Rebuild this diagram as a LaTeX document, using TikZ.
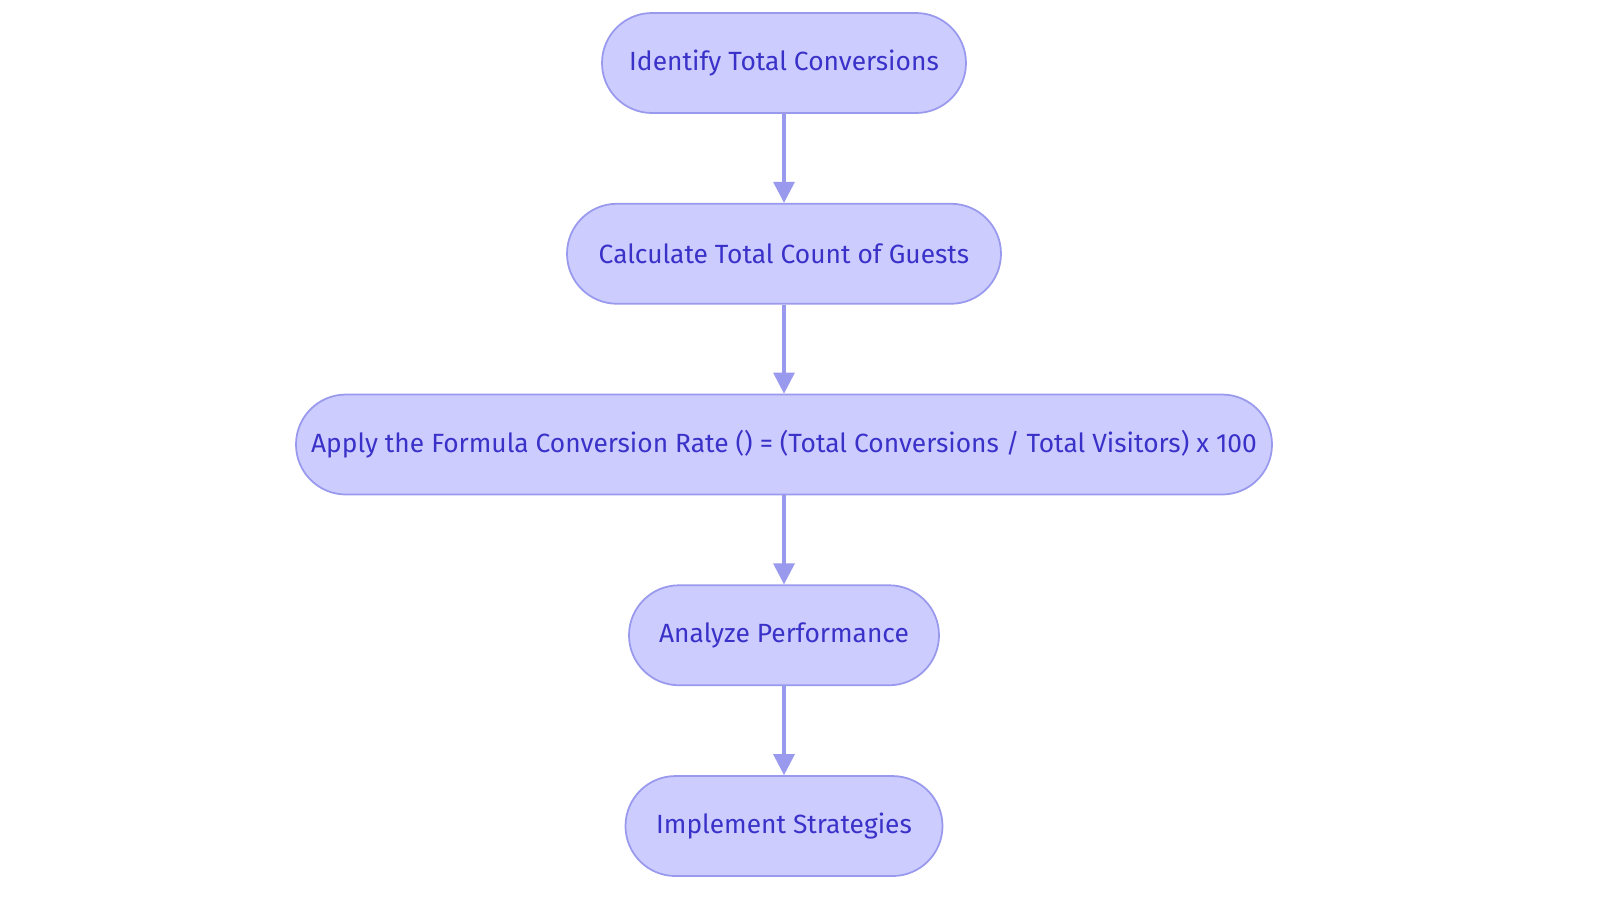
\documentclass[tikz,border=0pt]{standalone}
\usepackage{fontspec}
\setmainfont{Fira Sans}
\usetikzlibrary{positioning,arrows.meta}
\definecolor{stepfill}{HTML}{CCCCFF}
\definecolor{stepline}{HTML}{9999EE}
\definecolor{steptext}{HTML}{3A32C8}
\tikzset{>={Triangle[length=0.42cm,width=0.42cm]}}

\begin{document}
\begin{tikzpicture}[
    stage/.style={draw=stepline, line width=1pt, fill=stepfill, rounded corners=1cm,
        minimum height=2cm, text=steptext, font=\fontsize{15}{18}\selectfont, align=center},
    flow/.style={->, draw=stepline, line width=1.8pt},
    node distance=1.78cm]
    \useasboundingbox (0,0) rectangle (32,-18.06);
    \node[stage, minimum width=7.28cm] (ident) at (15.68,-1.26) {Identify Total Conversions};
    \node[stage, minimum width=8.68cm, below=of ident] (calc) {Calculate Total Count of Guests};
    \node[stage, minimum width=19.52cm, below=of calc] (apply) {Apply the Formula Conversion Rate () = (Total Conversions / Total Visitors) x 100};
    \node[stage, minimum width=6.2cm, below=of apply] (analyze) {Analyze Performance};
    \node[stage, minimum width=6.34cm, below=of analyze] (impl) {Implement Strategies};

    \draw[flow] (ident) -- (calc);
    \draw[flow] (calc) -- (apply);
    \draw[flow] (apply) -- (analyze);
    \draw[flow] (analyze) -- (impl);
\end{tikzpicture}
\end{document}
